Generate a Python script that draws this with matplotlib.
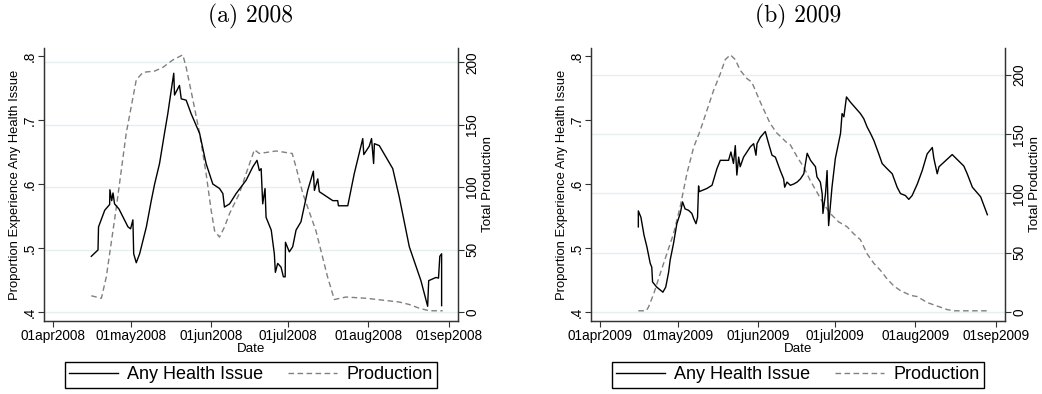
import matplotlib
matplotlib.use("Agg")
import matplotlib.pyplot as plt
import pandas as pd

# days after 01 April of each year
health_day_08 = [14.8, 17.4, 17.6, 20.0, 21.9, 22.0, 22.7, 23.2, 23.8, 25.5, 29.0, 30.0, 30.9, 31.2,
                 32.2, 33.5, 36.1, 38.0, 39.3, 41.2, 43.1, 44.4, 45.7, 46.7, 47.0, 48.9, 49.6, 51.5,
                 53.4, 56.7, 59.2, 61.8, 64.4, 65.7, 66.3, 68.3, 70.8, 74.7, 77.3, 78.9, 79.8, 80.5,
                 81.1, 82.0, 82.4, 84.4, 85.6, 86.0, 86.9, 88.2, 89.1, 89.8, 89.9, 91.4, 92.7, 94.0,
                 95.9, 98.5, 100.7, 101.1, 102.4, 103.0, 108.2, 110.1, 110.4, 114.0, 116.5, 119.8,
                 120.2, 122.3, 123.2, 124.0, 124.3, 126.2, 131.4, 133.9, 137.8, 142.3, 144.9, 145.3,
                 148.1, 149.1, 149.6, 150.3, 150.3]
health_08 = [.487, .497, .533, .559, .568, .591, .574, .586, .569, .561, .533, .530, .544, .491,
             .477, .491, .533, .574, .600, .632, .679, .710, .746, .773, .739, .754, .733, .731,
             .710, .679, .632, .600, .593, .585, .564, .569, .585, .606, .627, .637, .621, .624,
             .569, .593, .548, .528, .491, .462, .476, .470, .455, .455, .509, .494, .502, .528,
             .541, .590, .620, .590, .608, .588, .574, .574, .566, .566, .616, .671,
             .646, .659, .671, .632, .663, .660, .624, .580, .502, .449, .409, .449,
             .454, .453, .487, .491, .410]

prod_day_08 = [14.8, 18.7, 20.6, 24.5, 28.3, 32.2, 34.8, 39.3, 42.5, 46.4, 50.2, 51.5, 54.1, 56.7,
               59.2, 61.2, 62.5, 64.4, 66.3, 68.3, 72.1, 74.7, 77.9, 79.8, 86.3, 92.5, 94.0, 96.6,
               101.7, 106.2, 108.8, 113.3, 121.1, 133.9, 137.8, 141.7, 145.5, 150.7]
prod_08 = [13, 11, 28, 84, 143, 186, 192, 193, 196, 202, 206, 196, 170, 143,
           111, 81, 65, 60, 68, 79, 95, 111, 130, 127, 129, 127, 116, 95,
           65, 28, 10, 12, 11, 8, 6, 3, 1, 1]

health_day_09 = [14.8, 14.8, 15.8, 17.0, 18.1, 19.4, 20.0, 20.3, 21.9, 24.3, 25.4, 26.5, 27.1, 28.4,
                 29.7, 30.5, 31.0, 31.9, 32.9, 34.2, 35.5, 36.2, 37.1, 37.7, 38.1, 38.3, 41.3, 43.3,
                 45.2, 46.5, 49.7, 50.6, 51.6, 52.3, 52.9, 53.6, 54.2, 55.5, 58.1, 59.4, 60.3, 60.7,
                 62.0, 63.9, 65.2, 66.5, 67.8, 69.7, 71.0, 71.4, 72.3, 73.6, 74.9, 76.2, 77.5, 78.8,
                 80.1, 81.4, 83.3, 83.9, 85.2, 85.9, 86.2, 87.2, 87.8, 88.4, 89.7, 91.0, 93.0, 93.6,
                 94.3, 95.3, 96.8, 100.7, 102.0, 103.3, 104.6, 105.9, 107.8, 109.1, 111.0, 113.0,
                 114.9, 116.2, 118.1, 119.4, 120.7, 122.7, 124.6, 126.5, 128.5, 129.1, 130.4, 131.1,
                 136.2, 140.7, 142.0, 144.0, 147.2, 149.8]
health_09 = [.533, .558, .548, .520, .502, .476, .470, .447, .439, .431, .439, .462, .481, .507,
             .538, .548, .554, .572, .561, .559, .554, .546, .538, .548, .597, .588, .593, .598,
             .624, .637, .637, .650, .632, .660, .614, .642, .627, .642, .658, .663, .645, .663,
             .673, .682, .663, .645, .642, .621, .608, .595, .603, .598, .600, .603, .608, .616,
             .648, .637, .627, .611, .603, .585, .554, .585, .621, .535, .595, .640, .679, .710,
             .705, .736, .728, .710, .702, .689, .679, .668, .647, .632, .624, .616,
             .595, .585, .582, .576, .582, .600, .621, .647, .657, .640, .616, .627,
             .646, .628, .616, .595, .580, .552]

prod_day_09 = [14.8, 17.8, 18.7, 20.7, 23.2, 25.8, 28.4, 31.0, 33.6, 36.2, 38.7, 41.3, 43.9, 46.5,
               48.4, 50.4, 52.3, 54.2, 56.8, 58.7, 62.0, 65.8, 68.4, 71.7, 73.6, 76.2, 78.8, 81.3,
               83.9, 86.5, 89.1, 92.3, 95.5, 98.1, 100.7, 103.3, 105.9, 108.5, 111.0, 113.6, 116.2,
               120.1, 122.7, 126.5, 130.4, 134.3, 136.9, 143.3, 149.8]
prod_09 = [1, 1, 4, 15, 32, 49, 66, 89, 117, 139, 153, 170, 187, 201,
           213, 217, 213, 204, 197, 194, 177, 159, 151, 144, 141, 131, 122, 111,
           101, 91, 83, 76, 72, 66, 61, 49, 41, 35, 28, 22, 18,
           14, 13, 8, 5, 2, 1, 1, 1]

left_ticks = [.4, .5, .6, .7, .8]
left_labels = [".4", ".5", ".6", ".7", ".8"]
right_ticks = [0, 50, 100, 150, 200]
month_starts = ["04-01", "05-01", "06-01", "07-01", "08-01", "09-01"]

panels = [
    ("(a) 2008", 2008, health_day_08, health_08, prod_day_08, prod_08, (-7.2, 211.5), 0.0422),
    ("(b) 2009", 2009, health_day_09, health_09, prod_day_09, prod_09, (-7.6, 222.8), 0.5672),
]

plt.rcParams["font.family"] = ["Liberation Sans", "DejaVu Sans"]
fig = plt.figure(figsize=(10.42, 3.94), dpi=100)

for title, year, hd, hv, pd_, pv, rlim, x0 in panels:
    ax = fig.add_axes([x0, 0.1853, 0.397, 0.6929])
    ax2 = ax.twinx()
    start = pd.Timestamp(f"{year}-04-01")
    hx = start + pd.to_timedelta(hd, unit="D")
    px = start + pd.to_timedelta(pd_, unit="D")

    l1, = ax.plot(hx, hv, color="black", lw=1.0, label="Any Health Issue")
    l2, = ax2.plot(px, pv, color="#808080", lw=1.0, dashes=(4, 2.5), label="Production")

    ax.set_zorder(ax2.get_zorder() + 1)
    ax.patch.set_visible(False)

    ax.set_xlim(start - pd.Timedelta(days=3.5), start + pd.Timedelta(days=156.5))
    ticks = [pd.Timestamp(f"{year}-{m}") for m in month_starts]
    ax.set_xticks(ticks)
    ax.set_xticklabels([t.strftime("%d%b%Y").lower() for t in ticks], fontsize=9.8)
    ax.set_xlabel("Date", fontsize=9.6, labelpad=0)

    ax.set_ylim(0.386, 0.8125)
    ax.set_yticks(left_ticks)
    ax.set_yticklabels(left_labels, fontsize=9.8, rotation=90, va="center")
    ax.set_ylabel("Proportion Experience Any Health Issue", fontsize=9.4)
    ax.yaxis.set_label_coords(-0.056, 0.5)

    ax2.set_ylim(*rlim)
    ax2.set_yticks(right_ticks)
    ax2.set_yticklabels([str(t) for t in right_ticks], fontsize=9.8, rotation=90, va="center")
    ax2.set_ylabel("Total Production", fontsize=9.6)
    ax2.yaxis.set_label_coords(1.058, 0.5)
    ax2.grid(axis="y", color="#e6eff0", lw=1.0)
    ax2.set_axisbelow(True)

    for a in (ax, ax2):
        a.spines["top"].set_visible(False)
        a.tick_params(direction="out", length=4, width=0.8, color="#333333", pad=2)
        a.tick_params(axis="y", pad=1.5)
        for s in ("left", "right", "bottom"):
            a.spines[s].set_color("#333333")
            a.spines[s].set_linewidth(0.9)

    ax.text(0.5, 1.115, title, transform=ax.transAxes, ha="center", va="center",
            fontsize=17, family="cmr10")

    leg = ax.legend([l1, l2], ["Any Health Issue", "Production"], loc="upper center",
                    bbox_to_anchor=(0.5, -0.15), borderaxespad=0, ncol=2, fontsize=13,
                    handlelength=2.7, handletextpad=0.5, columnspacing=1.4,
                    borderpad=0.25, fancybox=False, framealpha=1)
    leg.get_frame().set_edgecolor("black")
    leg.get_frame().set_linewidth(1.0)

fig.savefig("out.png", dpi=100)
